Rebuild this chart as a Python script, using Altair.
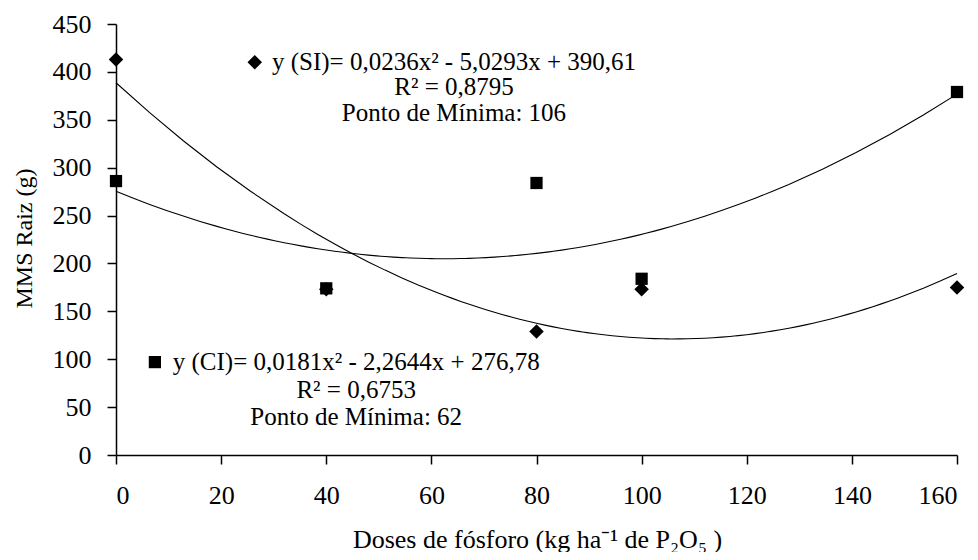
import altair as alt
import pandas as pd

# ---- data ----
doses = [0, 40, 80, 100, 160]
si_values = [413, 173, 129, 173, 175]
ci_values = [286, 174, 284, 184, 379]

x_ticks = [0, 20, 40, 60, 80, 100, 120, 140, 160]
y_ticks = [0, 50, 100, 150, 200, 250, 300, 350, 400, 450]

si_lines = ["y (SI)= 0,0236x² - 5,0293x + 390,61", "R² = 0,8795", "Ponto de Mínima: 106"]
ci_lines = ["y (CI)= 0,0181x² - 2,2644x + 276,78", "R² = 0,6753", "Ponto de Mínima: 62"]
si_text_x = 64.3
si_text_y = [410, 384, 357]
ci_text_x = 45.7
ci_text_y = [97, 68, 40]
marker_series = ["SI", "CI"]
marker_x = [26.4, 7.4]
marker_y = [410, 97]

FONT = "Liberation Serif"

pts = pd.DataFrame(
    {"dose": doses * 2,
     "mms": si_values + ci_values,
     "serie": ["SI"] * len(doses) + ["CI"] * len(doses)}
)
ann = pd.DataFrame(
    {"tx": [si_text_x] * 3 + [ci_text_x] * 3,
     "ty": si_text_y + ci_text_y,
     "label": si_lines + ci_lines}
)
mk = pd.DataFrame({"mx": marker_x, "my": marker_y, "serie": marker_series})

xscale = alt.Scale(domain=[0, 160], nice=False, zero=False)
yscale = alt.Scale(domain=[0, 450], nice=False)
shape_scale = alt.Scale(domain=["SI", "CI"], range=["diamond", "square"])
size_scale = alt.Scale(domain=["SI", "CI"], range=[210, 150])

xaxis = alt.Axis(values=x_ticks, title="Doses de fósforo (kg ha⁻¹ de P₂O₅ )",
                 titleY=84, titleBaseline="middle", titleX=421, titleFontSize=26)
yaxis = alt.Axis(values=y_ticks, title="MMS Raiz (g)",
                 titleX=-92, titleY=214, titleBaseline="middle", titleAngle=-90)

base = alt.Chart(pts)

curves = base.transform_regression(
    "dose", "mms", method="poly", order=2, groupby=["serie"], extent=[0, 160]
).mark_line(color="black", strokeWidth=1.1).encode(
    x=alt.X("dose:Q", scale=xscale, axis=xaxis),
    y=alt.Y("mms:Q", scale=yscale, axis=yaxis),
    detail="serie:N",
)

points = base.mark_point(filled=True, color="black", opacity=1).encode(
    x=alt.X("dose:Q", scale=xscale),
    y=alt.Y("mms:Q", scale=yscale),
    shape=alt.Shape("serie:N", scale=shape_scale, legend=None),
    size=alt.Size("serie:N", scale=size_scale, legend=None),
)

markers = alt.Chart(mk).mark_point(filled=True, color="black", opacity=1).encode(
    x=alt.X("mx:Q", scale=xscale),
    y=alt.Y("my:Q", scale=yscale),
    shape=alt.Shape("serie:N", scale=shape_scale, legend=None),
    size=alt.Size("serie:N", scale=size_scale, legend=None),
)

texts = alt.Chart(ann).mark_text(
    font=FONT, fontSize=25, color="black", align="center", baseline="middle"
).encode(
    x=alt.X("tx:Q", scale=xscale),
    y=alt.Y("ty:Q", scale=yscale),
    text="label:N",
)

chart = alt.layer(curves, points, markers, texts).properties(
    width=841, height=431,
    autosize=alt.AutoSizeParams(type="none"),
    padding={"left": 108, "top": 16, "right": 13, "bottom": 97},
    background="white",
).configure_view(stroke=None).configure_axis(
    grid=False,
    domainColor="black", domainWidth=1.5,
    tickColor="black", tickWidth=1.5, tickSize=9,
    labelFont=FONT, labelFontSize=26, labelColor="black",
    labelPadding=16,
    titleFont=FONT, titleFontSize=24, titleColor="black", titleFontWeight="normal",
).configure_axisX(labelPadding=18)

chart.save("out.html", embed_options={"renderer": "svg", "actions": False})
